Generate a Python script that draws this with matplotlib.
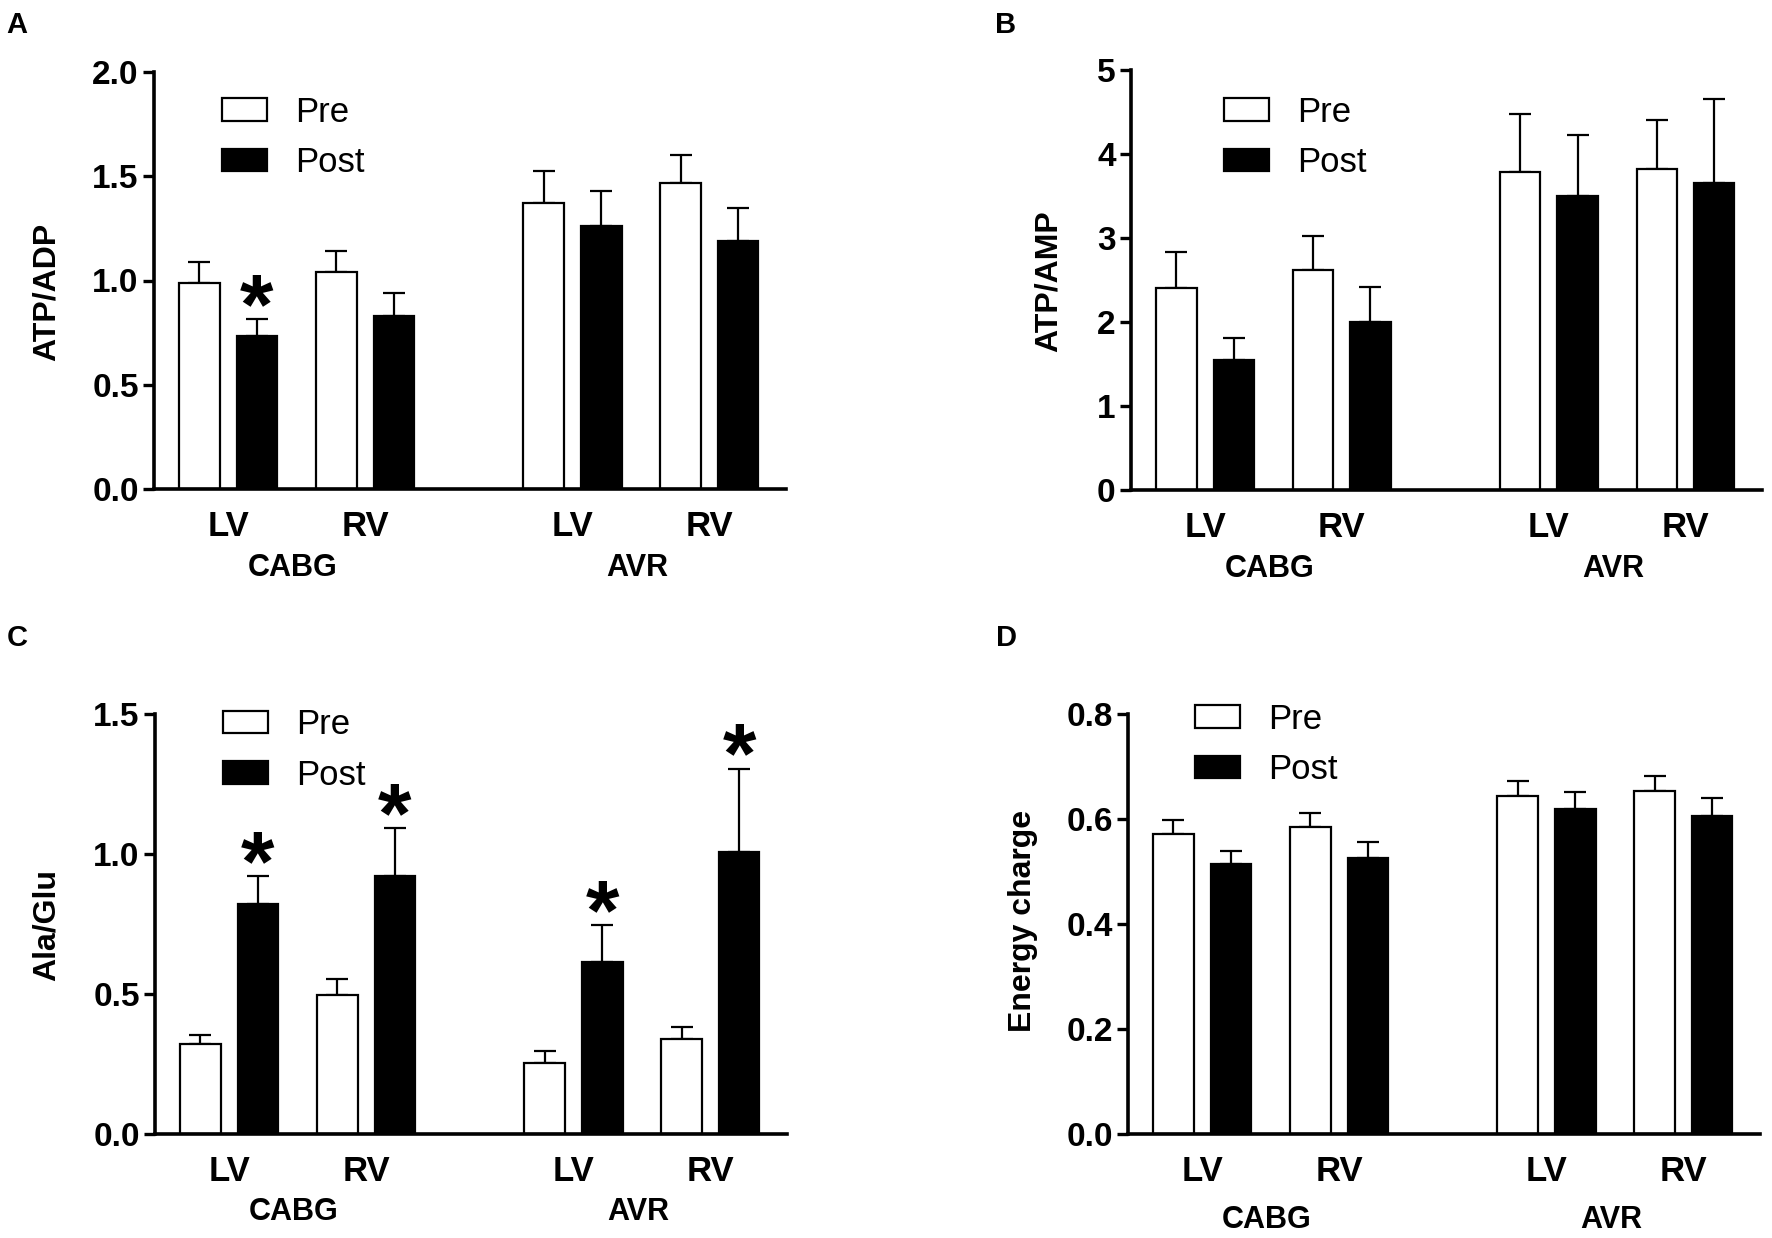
import numpy as np
import matplotlib
matplotlib.use('Agg')
import matplotlib.pyplot as plt
from matplotlib.transforms import blended_transform_factory

plt.rcParams['font.family'] = ['Liberation Sans', 'DejaVu Sans']

W, H = 1772, 1238

sites = ['LV', 'RV', 'LV', 'RV']
groups = ['CABG', 'AVR']
series = ['Pre', 'Post']

# panel A: ATP/ADP
atp_adp_pre = [0.99, 1.04, 1.37, 1.47]
atp_adp_pre_err = [0.10, 0.10, 0.155, 0.13]
atp_adp_post = [0.735, 0.83, 1.26, 1.19]
atp_adp_post_err = [0.08, 0.11, 0.17, 0.16]
atp_adp_star = [True, False, False, False]

# panel B: ATP/AMP
atp_amp_pre = [2.41, 2.62, 3.78, 3.82]
atp_amp_pre_err = [0.42, 0.40, 0.70, 0.59]
atp_amp_post = [1.545, 2.005, 3.50, 3.655]
atp_amp_post_err = [0.27, 0.415, 0.73, 1.00]
atp_amp_star = [False, False, False, False]

# panel C: Ala/Glu
ala_glu_pre = [0.322, 0.495, 0.252, 0.339]
ala_glu_pre_err = [0.031, 0.058, 0.043, 0.043]
ala_glu_post = [0.821, 0.922, 0.615, 1.007]
ala_glu_post_err = [0.099, 0.171, 0.13, 0.298]
ala_glu_star = [True, True, True, True]

# panel D: energy charge
ec_pre = [0.572, 0.585, 0.644, 0.654]
ec_pre_err = [0.026, 0.026, 0.028, 0.028]
ec_post = [0.514, 0.526, 0.619, 0.605]
ec_post_err = [0.026, 0.031, 0.033, 0.035]
ec_star = [False, False, False, False]

# layout in pixels of the 1772x1238 canvas
BAR_W = 1.0
PAIR_GAP = 1.42
pre_x = np.array([1.12, 4.50, 9.62, 13.00])
post_x = pre_x + PAIR_GAP
XMAX = 15.6


def px_rect(x0, x1, ytop, ybot):
    return [x0 / W, 1 - ybot / H, (x1 - x0) / W, (ybot - ytop) / H]


def panel(fig, rect, pre, pre_err, post, post_err, stars, ylim, yticks,
          yticklabels, ylabel, ylabel_xy, letter, letter_xy, legend_xy, group_dy):
    ax = fig.add_axes(rect)
    ax.bar(pre_x, pre, BAR_W, color='white', edgecolor='black', linewidth=1.6,
           label=series[0], zorder=2)
    ax.bar(post_x, post, BAR_W, color='black', edgecolor='black', linewidth=1.6,
           label=series[1], zorder=2)
    ax.errorbar(pre_x, pre, yerr=[np.zeros(4), pre_err], fmt='none',
                ecolor='black', elinewidth=1.6, capsize=8, capthick=1.6, zorder=1)
    ax.errorbar(post_x, post, yerr=[np.zeros(4), post_err], fmt='none',
                ecolor='black', elinewidth=1.6, capsize=8, capthick=1.6, zorder=1)
    for x, v, e, s in zip(post_x, post, post_err, stars):
        if s:
            ax.annotate('*', xy=(x, v + e), xytext=(0, -10), textcoords='offset points',
                        ha='center', va='baseline', fontsize=62, fontweight='bold',
                        annotation_clip=False)

    ax.set_xlim(0, XMAX)
    ax.set_ylim(*ylim)
    ax.set_yticks(yticks)
    ax.set_yticklabels(yticklabels, fontsize=24, fontweight='bold')
    ax.tick_params(axis='y', direction='out', length=8, width=2.4, pad=3)
    ax.set_xticks((pre_x + post_x) / 2)
    ax.set_xticklabels(sites, fontsize=25, fontweight='bold')
    ax.tick_params(axis='x', length=0, pad=15)
    for side in ['top', 'right']:
        ax.spines[side].set_visible(False)
    for side in ['left', 'bottom']:
        ax.spines[side].set_linewidth(2.6)

    trans = blended_transform_factory(ax.transData, ax.transAxes)
    centers = (pre_x + post_x) / 2
    for g, gx in zip(groups, [centers[:2].mean(), centers[2:].mean()]):
        ax.annotate(g, xy=(gx - 0.1, 0), xycoords=trans, xytext=(0, -group_dy),
                    textcoords='offset points', ha='center', va='center',
                    fontsize=22, fontweight='bold')

    fig.text(ylabel_xy[0] / W, 1 - ylabel_xy[1] / H, ylabel, rotation=90,
             ha='center', va='center', fontsize=23, fontweight='bold')
    fig.text(letter_xy[0] / W, 1 - letter_xy[1] / H, letter, ha='center',
             va='center', fontsize=21, fontweight='bold')

    ax.legend(loc='center left', bbox_to_anchor=(legend_xy[0] / W, 1 - legend_xy[1] / H),
              bbox_transform=fig.transFigure, frameon=False, fontsize=25,
              handlelength=1.3, handleheight=0.62, handletextpad=0.8,
              labelspacing=0.5, borderpad=0, borderaxespad=0)
    return ax


fig = plt.figure(figsize=(W / 100, H / 100), dpi=100)

panel(fig, px_rect(154, 786, 72, 489), atp_adp_pre, atp_adp_pre_err,
      atp_adp_post, atp_adp_post_err, atp_adp_star, (0, 2.0),
      [0, 0.5, 1.0, 1.5, 2.0], ['0.0', '0.5', '1.0', '1.5', '2.0'],
      'ATP/ADP', (47, 292), 'A', (17, 25), (222, 137.5), 57)

panel(fig, px_rect(1131, 1762, 70, 490), atp_amp_pre, atp_amp_pre_err,
      atp_amp_post, atp_amp_post_err, atp_amp_star, (0, 5),
      [0, 1, 2, 3, 4, 5], ['0', '1', '2', '3', '4', '5'],
      'ATP/AMP', (1049, 281), 'B', (1006, 25), (1224, 137.5), 57)

panel(fig, px_rect(155, 787, 714, 1134), ala_glu_pre, ala_glu_pre_err,
      ala_glu_post, ala_glu_post_err, ala_glu_star, (0, 1.5),
      [0, 0.5, 1.0, 1.5], ['0.0', '0.5', '1.0', '1.5'],
      'Ala/Glu', (47, 925), 'C', (17, 638), (223, 750), 56)

panel(fig, px_rect(1128, 1760, 714, 1134), ec_pre, ec_pre_err,
      ec_post, ec_post_err, ec_star, (0, 0.8),
      [0, 0.2, 0.4, 0.6, 0.8], ['0.0', '0.2', '0.4', '0.6', '0.8'],
      'Energy charge', (1023, 921), 'D', (1006, 638), (1195, 744.5), 62)

fig.savefig('out.png', dpi=100)
